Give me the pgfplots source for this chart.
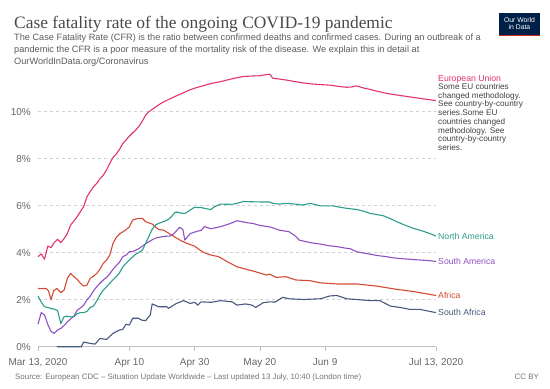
\documentclass[border=0pt]{standalone}
\usepackage{pgfplots}
\pgfplotsset{compat=1.18}
\usepackage{fontspec}
\setmainfont{Liberation Sans}
\newfontfamily\titlefont{Liberation Serif}
\definecolor{cEU}{HTML}{E2336D}
\definecolor{cNA}{HTML}{2C9C8C}
\definecolor{cSA}{HTML}{8E52C0}
\definecolor{cAF}{HTML}{D44A32}
\definecolor{cZA}{HTML}{44597D}
\definecolor{tgray}{HTML}{666666}
\definecolor{sgray}{HTML}{5B5B5B}
\definecolor{navy}{HTML}{002147}
\definecolor{owidred}{HTML}{CE261E}
\begin{document}
\begin{tikzpicture}[x=1bp,y=1bp]
\useasboundingbox (0,0) rectangle (550,-388);
% title and subtitle
\node[anchor=base west,inner sep=0pt,text=sgray!80!black] at (14,-28) {\titlefont\fontsize{17.4bp}{20bp}\selectfont Case fatality rate of the ongoing COVID-19 pandemic};
\begin{scope}[every node/.style={anchor=base west,inner sep=0pt,text=sgray,font=\fontsize{9.2bp}{10bp}\selectfont}]
\node at (14,-40.5) {The Case Fatality Rate (CFR) is the ratio between confirmed deaths and confirmed cases. During an outbreak of a};
\node at (14,-52.5) {pandemic the CFR is a poor measure of the mortality risk of the disease. We explain this in detail at};
\node at (14,-64.5) {OurWorldInData.org/Coronavirus};
\end{scope}
% logo
\fill[navy] (499,-13) rectangle (540,-36);
\fill[owidred] (499,-34.5) rectangle (540,-36);
\node[text=white,align=center,inner sep=0pt,font=\fontsize{6.8bp}{7.5bp}\selectfont] at (519.5,-23.5) {Our World\\in Data};
% footer
\node[anchor=base west,inner sep=0pt,text=tgray!90,font=\fontsize{7.9bp}{9bp}\selectfont] at (15,-379.7) {Source: European CDC -- Situation Update Worldwide -- Last updated 13 July, 10:40 (London time)};
\node[anchor=base east,inner sep=0pt,text=tgray!90,font=\fontsize{7.9bp}{9bp}\selectfont] at (539,-379.7) {CC BY};
\begin{axis}[
  at={(38bp,-346.7bp)}, anchor=south west,
  scale only axis, width=398bp, height=274.95bp,
  xmin=0, xmax=122, ymin=0, ymax=11.7,
  clip=false,
  axis x line*=bottom, axis y line*=left,
  x axis line style={draw=black!25, line width=0.6bp, -},
  y axis line style={draw=none},
  xtick={0,28,48,68,88,122},
  xticklabels={{Mar 13, 2020},{Apr 10},{Apr 30},{May 20},{Jun 9},{Jul 13, 2020}},
  xtick style={draw=black!25, line width=0.6bp},
  ytick style={draw=none},
  tick align=outside, major tick length=4bp,
  xticklabel style={anchor=north, inner sep=0pt, yshift=-7.5bp, text=tgray, font=\fontsize{10bp}{12bp}\selectfont},
  ytick={0,2,4,6,8,10},
  yticklabels={0\%,2\%,4\%,6\%,8\%,10\%},
  yticklabel style={anchor=east, inner sep=0pt, xshift=-3bp, text=tgray, font=\fontsize{10bp}{12bp}\selectfont},
  ymajorgrids, grid style={draw=black!18, dash pattern=on 3bp off 3bp, line width=0.6bp},
  every axis plot/.append style={line width=1.1bp, line join=round, mark=none},
]
\addplot[cZA] coordinates {(5.8,0)(13.3,0)(14,0.2)(16,0.14)(17.5,0.11)(19,0.35)(21,0.31)(23,0.57)(25,0.71)(26,0.74)(27,0.96)(28,0.92)(29,1.21)(30.8,1.21)(31.8,1.13)(33,1.11)(34.4,1.35)(35,1.82)(37,1.7)(39.5,1.7)(40,1.63)(42.4,1.84)(44.6,1.96)(46.7,1.84)(48,1.89)(49,1.77)(50,1.91)(53,1.89)(56,1.96)(59.5,1.91)(61,1.77)(63.6,1.82)(65.6,1.77)(66.7,1.67)(69,1.87)(71,1.91)(72.7,1.9)(75,2.1)(77,2.04)(81.4,2.01)(86.5,2.04)(89.5,2.16)(91.6,2.18)(94.6,2.04)(97.7,2.01)(101.8,1.96)(104.8,1.96)(108,1.73)(111,1.67)(114,1.59)(117,1.59)(122,1.45)};
\addplot[cAF] coordinates {(0,2.48)(1,2.47)(2.5,2.48)(3.2,2.38)(4,2.0)(4.8,2.38)(5.8,2.48)(7,2.3)(8,2.41)(9,2.91)(10,3.12)(11,2.98)(12,2.87)(13,2.7)(14,2.58)(15,2.62)(16,2.91)(17,3.0)(18,3.12)(19,3.3)(20,3.55)(21,3.68)(22,3.9)(23,4.4)(24,4.65)(25,4.8)(26,4.89)(27,4.98)(28,5.1)(29,5.39)(30,5.44)(31,5.46)(32,5.46)(33,5.32)(34,5.27)(35,5.22)(36,5.1)(37,4.99)(38.5,4.96)(40.5,4.79)(42.6,4.61)(44,4.5)(45.6,4.4)(48,4.28)(49.7,4.11)(51,4.0)(53,3.9)(55.4,3.83)(58,3.62)(61,3.4)(64,3.29)(66.7,3.19)(70,3.05)(71,3.09)(73,2.95)(76,2.98)(79,2.84)(83.4,2.81)(86.5,2.72)(91.6,2.67)(97.7,2.67)(103.8,2.58)(110,2.44)(115,2.35)(122,2.18)};
\addplot[cSA] coordinates {(0,0.96)(1,1.45)(2,1.35)(3,0.95)(4,0.65)(5,0.57)(6,0.71)(7,0.78)(8,0.9)(9,1.06)(10,1.18)(11,1.3)(12,1.55)(13,1.65)(14,1.77)(15,1.99)(16,2.15)(17,2.38)(18,2.55)(19,2.7)(20,2.84)(21,2.95)(22,3.1)(23,3.3)(24,3.45)(25,3.6)(26,3.83)(27,3.9)(28,4.04)(29,4.05)(30,4.11)(31,4.18)(32,4.28)(33,4.38)(34,4.47)(35,4.55)(36,4.62)(37,4.65)(38,4.68)(39,4.7)(40.5,4.71)(41.5,4.79)(43.4,5.08)(44.4,4.99)(45,4.54)(46.7,4.82)(49,4.92)(50,4.95)(51,5.11)(53,5.02)(56,5.11)(58.5,5.22)(61,5.36)(64,5.28)(66,5.24)(68,5.16)(71,5.1)(74,4.96)(77,4.89)(79,4.7)(80,4.54)(83.4,4.43)(86.5,4.37)(89,4.3)(91.6,4.26)(94,4.2)(95.7,4.17)(97.7,4.04)(100,3.98)(101.8,3.94)(104,3.88)(106.9,3.83)(109,3.78)(112,3.74)(115,3.71)(117,3.69)(120,3.66)(122,3.63)};
\addplot[cNA] coordinates {(0,2.16)(1,1.9)(2,1.70)(3,1.67)(4,1.63)(5,1.6)(6,1.53)(7,0.99)(8,1.28)(9,1.3)(10,1.27)(11,1.28)(12,1.4)(13,1.45)(14,1.45)(15,1.5)(16,1.67)(17,1.73)(18,1.95)(19,2.2)(20,2.41)(21,2.55)(22,2.7)(23,2.85)(24,2.98)(25,3.15)(26,3.4)(27,3.55)(28,3.69)(29,3.82)(30,3.94)(31,4.02)(32,4.11)(33,4.4)(34,4.7)(35,5.0)(36,5.18)(37,5.25)(38,5.3)(39,5.35)(40,5.42)(41,5.55)(42,5.72)(43,5.72)(44,5.68)(45,5.67)(46,5.75)(47,5.85)(48,5.93)(50,5.92)(52,5.86)(53,5.84)(54,5.95)(56,6.07)(58,6.06)(60,6.07)(62,6.14)(63,6.18)(65,6.17)(68,6.16)(71,6.16)(72,6.1)(74,6.07)(76,6.1)(78,6.08)(81,6.03)(83.4,6.1)(85,6.05)(86.5,5.99)(90.5,5.99)(92,5.95)(94.6,5.89)(97.7,5.84)(100,5.76)(101.8,5.67)(104,5.62)(105.9,5.57)(108,5.45)(110,5.32)(112,5.2)(115,5.04)(118,4.92)(120,4.82)(122,4.71)};
\addplot[cEU] coordinates {(0,3.83)(1,3.95)(2,3.72)(3,4.28)(4,4.22)(5,4.43)(6,4.57)(7,4.43)(8,4.6)(9,4.82)(10,5.18)(11,5.35)(12,5.53)(13,5.75)(14,5.96)(15,6.38)(16,6.6)(17,6.8)(18,6.95)(19,7.15)(20,7.3)(21,7.52)(22,7.8)(23,8.05)(24,8.2)(25,8.4)(26,8.65)(27,8.8)(28,8.96)(29,9.1)(30,9.22)(31,9.39)(32,9.6)(33,9.86)(34,10.0)(35,10.1)(36,10.2)(38,10.38)(40,10.52)(42,10.65)(44,10.77)(46,10.9)(48,11.0)(50,11.08)(53,11.2)(56,11.28)(58,11.35)(60,11.42)(63,11.5)(66,11.52)(68,11.53)(70,11.58)(71,11.6)(72,11.42)(74,11.39)(76,11.35)(78,11.3)(81,11.23)(84,11.18)(87,11.15)(89.5,11.13)(92,11.08)(94.6,11.04)(96,11.05)(97.7,11.1)(100,11.0)(101.8,10.95)(104,10.87)(106.9,10.78)(109,10.73)(112,10.67)(115,10.61)(117,10.57)(120,10.51)(122,10.47)};
\end{axis}
% series labels
\begin{scope}[every node/.style={anchor=base west,inner sep=0pt,font=\fontsize{8.7bp}{10bp}\selectfont}]
\node[text=cEU] at (438,-81.3) {European Union};
\node[text=cNA] at (438,-239.2) {North America};
\node[text=cSA] at (438,-264.4) {South America};
\node[text=cAF] at (438,-298.4) {Africa};
\node[text=cZA] at (438,-315.8) {South Africa};
\end{scope}
\begin{scope}[every node/.style={anchor=base west,inner sep=0pt,text=black!75,font=\fontsize{8.2bp}{9bp}\selectfont}]
\node at (438,-89.5) {Some EU countries};
\node at (438,-98.2) {changed methodology.};
\node at (438,-106.9) {See country-by-country};
\node at (438,-115.6) {series.Some EU};
\node at (438,-124.3) {countries changed};
\node at (438,-133) {methodology. See};
\node at (438,-141.7) {country-by-country};
\node at (438,-150.4) {series.};
\end{scope}
\end{tikzpicture}
\end{document}
